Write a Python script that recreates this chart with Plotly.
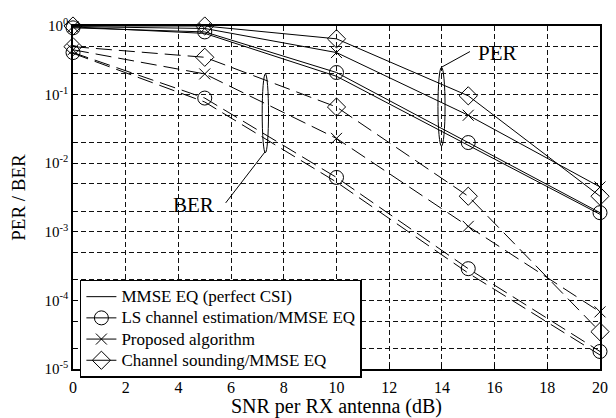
import plotly.graph_objects as go

snr = [0, 5, 10, 15, 20]

# PER curves (solid)
per_mmse = [0.97, 0.78, 0.185, 0.0185, 0.0018]
per_ls = [0.94, 0.82, 0.21, 0.020, 0.0019]
per_prop = [0.98, 0.92, 0.41, 0.050, 0.0045]
per_sound = [1.0, 1.0, 0.65, 0.096, 0.0033]

# BER curves (dashed)
ber_mmse = [0.40, 0.078, 0.0053, 0.00025, 0.000016]
ber_ls = [0.41, 0.089, 0.0062, 0.00029, 0.000018]
ber_prop = [0.45, 0.20, 0.023, 0.0012, 0.000068]
ber_sound = [0.50, 0.35, 0.066, 0.0033, 0.000035]

names = ["MMSE EQ (perfect CSI)", "LS channel estimation/MMSE EQ",
         "Proposed algorithm", "Channel sounding/MMSE EQ"]
symbols = [None, "circle-open", "x-thin-open", "diamond-open"]

y_tickvals = [1, 0.1, 0.01, 0.001, 0.0001, 0.00001]
y_ticktext = ["10<sup>0</sup>", "10<sup>-1</sup>", "10<sup>-2</sup>",
              "10<sup>-3</sup>", "10<sup>-4</sup>", "10<sup>-5</sup>"]
x_tickvals = list(range(0, 21, 2))

FONT = "Liberation Serif, Times New Roman, serif"
fig = go.Figure()

per_sets = [per_mmse, per_ls, per_prop, per_sound]
ber_sets = [ber_mmse, ber_ls, ber_prop, ber_sound]

for i in range(4):
    sym = symbols[i]
    mode = "lines" if sym is None else "lines+markers"
    marker = dict(symbol=sym or "circle", size=14 if sym != "x-thin-open" else 11,
                  color="black", line=dict(color="black", width=1))
    fig.add_trace(go.Scatter(
        x=snr, y=per_sets[i], mode=mode,
        name="<span style='font-size:17px'>" + names[i] + "</span>",
        line=dict(color="black", width=1),
        marker=marker, cliponaxis=False, showlegend=True))
for i in range(4):
    sym = symbols[i]
    mode = "lines" if sym is None else "lines+markers"
    marker = dict(symbol=sym or "circle", size=14 if sym != "x-thin-open" else 11,
                  color="black", line=dict(color="black", width=1))
    fig.add_trace(go.Scatter(
        x=snr, y=ber_sets[i], mode=mode, name=names[i],
        line=dict(color="black", width=1, dash="16px,7px"),
        marker=marker, cliponaxis=False, showlegend=False))

# Ellipses grouping PER / BER curves
fig.add_shape(type="circle", xref="x", yref="y", x0=13.85, x1=14.12,
              y0=0.0178, y1=0.25, line=dict(color="black", width=1))
fig.add_shape(type="circle", xref="x", yref="y", x0=7.18, x1=7.42,
              y0=0.0142, y1=0.2, line=dict(color="black", width=1))
fig.add_shape(type="line", xref="paper", yref="paper",
              x0=(447 - 73) / 535, y0=(375 - 68) / 349,
              x1=(476 - 73) / 535, y1=(375 - 52) / 349,
              line=dict(color="black", width=1))
fig.add_shape(type="line", xref="paper", yref="paper",
              x0=(268 - 73) / 535, y0=(375 - 154) / 349,
              x1=(228 - 73) / 535, y1=(375 - 206) / 349,
              line=dict(color="black", width=1))
fig.add_annotation(xref="paper", yref="paper", x=(482 - 73) / 535, y=(375 - 53) / 349,
                   text="PER", showarrow=False, xanchor="left", yanchor="middle",
                   font=dict(family=FONT, size=21, color="black"))
fig.add_annotation(xref="paper", yref="paper", x=(218 - 73) / 535, y=(375 - 208) / 349,
                   text="BER", showarrow=False, xanchor="right", yanchor="middle",
                   font=dict(family=FONT, size=21, color="black"))

grid = dict(gridcolor="#111", gridwidth=1, griddash="5px,3px")
fig.update_xaxes(range=[0, 20], tickvals=x_tickvals, ticks="inside", ticklen=5,
                 tickcolor="black", showline=True, linecolor="black", linewidth=1.5,
                 mirror=True, zeroline=False, ticklabelstandoff=3,
                 title=dict(text="SNR per RX antenna (dB)", standoff=0,
                            font=dict(family=FONT, size=20, color="black")),
                 tickfont=dict(family=FONT, size=16, color="black"), **grid)
fig.update_yaxes(type="log", range=[-5, 0], tickvals=y_tickvals, ticktext=y_ticktext,
                 ticks="inside", ticklen=5, tickcolor="black",
                 showline=True, linecolor="black", linewidth=1.5, mirror=True,
                 minor=dict(ticks="inside", ticklen=4, tickcolor="black", showgrid=True,
                            gridcolor="#111", gridwidth=1, griddash="5px,3px"),
                 title=dict(text="PER / BER", standoff=14,
                            font=dict(family=FONT, size=19, color="black")),
                 tickfont=dict(family=FONT, size=15, color="black"), **grid)

fig.update_layout(
    width=616, height=418,
    margin=dict(l=73, r=8, t=26, b=43),
    paper_bgcolor="white", plot_bgcolor="white",
    font=dict(family=FONT, color="black"),
    legend=dict(x=(80 - 73) / 535, y=(375 - 284) / 349, xanchor="left", yanchor="top",
                bgcolor="white", bordercolor="black", borderwidth=1.5,
                font=dict(family=FONT, size=14, color="black"),
                tracegroupgap=0, itemwidth=30),
    showlegend=True,
)

fig.write_html("out.html", config={"displayModeBar": False},
               post_script="document.body.style.margin='0';document.body.style.overflow='hidden';")
